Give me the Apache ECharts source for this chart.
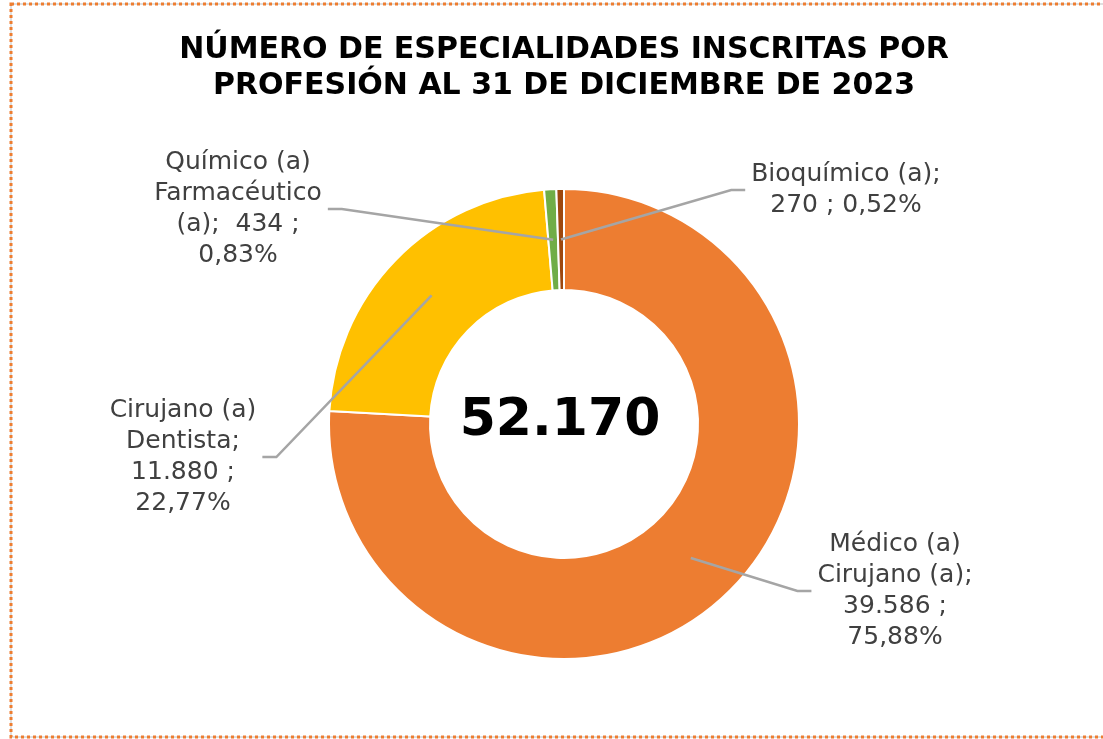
<!DOCTYPE html>
<html>
<head>
<meta charset="utf-8">
<title>Especialidades inscritas por profesión</title>
<script src="https://cdn.jsdelivr.net/npm/echarts@6/dist/echarts.min.js"></script>
<style>
  html, body { margin: 0; padding: 0; background: #fff; }
  #chart { width: 1103px; height: 739px; }
</style>
</head>
<body>
<div id="chart"></div>
<script>
// datos del gráfico
const categories = ['Médico (a)\nCirujano (a)', 'Cirujano (a)\nDentista', 'Químico (a)\nFarmacéutico\n(a)', 'Bioquímico (a)']
const values = [39586, 11880, 434, 270]
const colors = ['#ED7D31', '#FFC000', '#70AD47', '#9E480E']
// cómo se corta cada etiqueta (igual que en el original)
const labelFormats = ['{b};\n{v} ;\n{p}', '{b};\n{v} ;\n{p}', '{b};  {v} ;\n{p}', '{b};\n{v} ; {p}']
// centro de cada etiqueta en px
const labelPos = [[895, 591], [183, 457], [238, 209], [846, 190]]
const titleLines = ['NÚMERO DE ESPECIALIDADES INSCRITAS POR', 'PROFESIÓN AL 31 DE DICIEMBRE DE 2023']

const total = values.reduce((a, b) => a + b, 0)
const fmtNum = n => String(n).replace(/\B(?=(\d{3})+(?!\d))/g, '.')
const fmtPct = n => (n / total * 100).toFixed(2).replace('.', ',') + '%'

const cx = 564
const cy = 424
const r0 = 134
const r1 = 235
const font = 'DejaVu Sans'

const pieData = categories.map((name, i) => ({
  name: name,
  value: values[i],
  itemStyle: { color: colors[i] }
}))

const myChart = echarts.init(document.getElementById('chart'))
myChart.setOption({
  animation: false,
  graphic: [
    // borde punteado
    { type: 'rect', z: 0, shape: { x: 11, y: 4, width: 1110, height: 733 }, style: { fill: null, stroke: '#BFBFBF', lineWidth: 1 } },
    { type: 'rect', z: 1, shape: { x: 11, y: 4, width: 1110, height: 733 }, style: { fill: null, stroke: '#ED7D31', lineWidth: 3, lineDash: [3, 3] } },
    { type: 'text', z: 10, style: { text: titleLines[0], x: 564, y: 50, textAlign: 'center', textVerticalAlign: 'middle', fill: '#000', font: 'bold 30px "' + font + '"' } },
    { type: 'text', z: 10, style: { text: titleLines[1], x: 564, y: 86, textAlign: 'center', textVerticalAlign: 'middle', fill: '#000', font: 'bold 30px "' + font + '"' } },
    // total al centro
    { type: 'text', z: 10, style: { text: fmtNum(total), x: 560, y: 421, textAlign: 'center', textVerticalAlign: 'middle', fill: '#000', font: 'bold 52px "' + font + '"' } }
  ],
  series: [{
    // anillo
    type: 'pie',
    z: 2,
    center: [cx, cy],
    radius: [r0, r1],
    startAngle: 90,
    clockwise: true,
    silent: true,
    itemStyle: { borderColor: '#fff', borderWidth: 2 },
    label: { show: false },
    labelLine: { show: false },
    data: pieData
  }, {
    // mismo anillo transparente, solo para etiquetas y líneas encima
    type: 'pie',
    z: 3,
    center: [cx, cy],
    radius: [r0, r1],
    startAngle: 90,
    clockwise: true,
    avoidLabelOverlap: false,
    silent: true,
    itemStyle: { color: 'rgba(0,0,0,0)', borderWidth: 0 },
    label: {
      show: true,
      color: '#404040',
      fontFamily: font,
      fontSize: 25,
      lineHeight: 31,
      align: 'center',
      formatter: p => labelFormats[p.dataIndex]
        .replace('{b}', p.name)
        .replace('{v}', fmtNum(p.value))
        .replace('{p}', fmtPct(p.value))
    },
    labelLine: {
      show: true,
      length: 20,
      length2: 10,
      lineStyle: { color: '#A5A5A5', width: 2.5 }
    },
    labelLayout: function (params) {
      const i = params.dataIndex
      const lx = labelPos[i][0]
      const ly = labelPos[i][1]
      const w = params.labelRect.width
      const right = lx > cx
      // la línea parte desde el medio del anillo
      const p0 = params.labelLinePoints[0]
      const k = (r0 + r1) / 2 / r1
      const start = [cx + (p0[0] - cx) * k, cy + (p0[1] - cy) * k]
      const endX = right ? lx - w / 2 - 6 : lx + w / 2 + 6
      const elbowX = right ? endX - 14 : endX + 14
      return {
        x: lx,
        y: ly,
        align: 'center',
        verticalAlign: 'middle',
        labelLinePoints: [start, [elbowX, ly], [endX, ly]]
      }
    },
    data: categories.map((name, i) => ({ name: name, value: values[i] }))
  }]
})
</script>
</body>
</html>
